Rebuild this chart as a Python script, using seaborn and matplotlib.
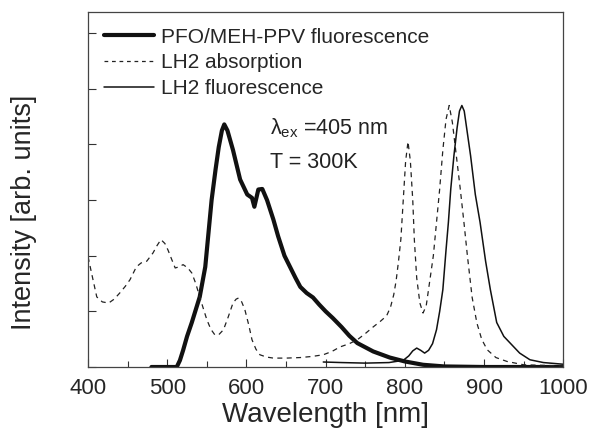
import numpy as np
import pandas as pd
import seaborn as sns
import matplotlib.pyplot as plt
from matplotlib.ticker import MultipleLocator

# PFO/MEH-PPV fluorescence (thick line)
pfo_wl = [480, 512, 516, 520, 525, 531, 536, 541, 548, 552, 556, 561, 565, 569, 572,
          576, 583, 592, 601, 607, 610, 615, 620, 626, 634, 640, 648, 655, 662, 668,
          676, 684, 692, 700, 709, 720, 730, 740, 760, 781, 800, 823, 850, 900, 1000]
pfo_int = [0, 0, 0.12, 0.3, 0.55, 0.8, 1.03, 1.26, 1.8, 2.4, 3.0, 3.55, 3.95, 4.25, 4.36,
           4.25, 3.9, 3.37, 3.1, 3.04, 2.88, 3.19, 3.2, 3.0, 2.65, 2.35, 2.0, 1.8, 1.6, 1.44,
           1.33, 1.25, 1.12, 1.0, 0.88, 0.72, 0.56, 0.43, 0.28, 0.17, 0.1, 0.04, 0.01, 0, 0]

# LH2 absorption (dashed)
abs_wl = [400, 405, 411, 418, 426, 433, 440, 447, 453, 461, 467, 474, 482, 487, 492,
          497, 501, 506, 510, 515, 520, 526, 531, 536, 541, 546, 550, 555, 560, 565,
          571, 577, 583, 587, 590, 594, 598, 603, 607, 612, 617, 625, 634, 650, 668,
          683, 697, 708, 718, 730, 740, 750, 760, 769, 777, 782, 786, 789, 792, 795,
          798, 801, 804, 807, 810, 812, 815, 819, 823, 827, 831, 836, 840, 844, 848,
          852, 856, 860, 865, 870, 875, 879, 885, 891, 897, 904, 915, 929, 950, 975, 1000]
abs_int = [1.98, 1.65, 1.26, 1.17, 1.15, 1.22, 1.33, 1.45, 1.57, 1.8, 1.87, 1.9, 2.05, 2.18, 2.29,
           2.22, 2.1, 1.92, 1.78, 1.8, 1.84, 1.78, 1.69, 1.5, 1.26, 1.03, 0.85, 0.68, 0.58, 0.58,
           0.67, 0.9, 1.15, 1.22, 1.24, 1.17, 1.03, 0.75, 0.49, 0.32, 0.22, 0.18, 0.16, 0.16, 0.17,
           0.19, 0.22, 0.28, 0.36, 0.42, 0.49, 0.6, 0.72, 0.82, 0.92, 1.08, 1.3, 1.55, 1.9, 2.3,
           3.0, 3.7, 4.05, 3.7, 3.0, 2.29, 1.6, 1.15, 0.97, 1.1, 1.5, 2.0, 2.6, 3.2, 3.9,
           4.45, 4.7, 4.4, 3.8, 3.2, 2.55, 2.0, 1.25, 0.79, 0.5, 0.31, 0.17, 0.1, 0.04, 0.03, 0.02]

# LH2 fluorescence (thin solid)
fl_wl = [697, 720, 750, 780, 798, 805, 810, 815, 820, 825, 830, 835, 840, 844, 848,
         852, 855, 858, 862, 866, 869, 872, 875, 878, 883, 889, 895, 902, 908, 916,
         925, 933, 945, 958, 975, 1000]
fl_int = [0.09, 0.08, 0.07, 0.08, 0.12, 0.2, 0.29, 0.34, 0.3, 0.25, 0.3, 0.42, 0.67, 1.0, 1.39,
          2.1, 2.6, 3.2, 3.8, 4.3, 4.6, 4.7, 4.6, 4.3, 3.8, 3.1, 2.6, 1.9, 1.39, 0.8,
          0.55, 0.43, 0.25, 0.13, 0.08, 0.05]

labels = ["PFO/MEH-PPV fluorescence", "LH2 absorption", "LH2 fluorescence"]

sns.set_style("ticks")
plt.rcParams['font.family'] = ['Liberation Sans', 'DejaVu Sans']
plt.rcParams['mathtext.fontset'] = 'custom'
plt.rcParams['mathtext.rm'] = 'Liberation Sans'
plt.rcParams['mathtext.it'] = 'Liberation Sans'

fig = plt.figure(figsize=(5.91, 4.29), dpi=100)
ax = fig.add_axes([0.149, 0.1445, 0.804, 0.8275])

pfo = pd.DataFrame({"wl": pfo_wl, "val": pfo_int})
ab = pd.DataFrame({"wl": abs_wl, "val": abs_int})
fl = pd.DataFrame({"wl": fl_wl, "val": fl_int})

sns.lineplot(data=pfo, x="wl", y="val", ax=ax, color="#111111", lw=3.0, label=labels[0])
sns.lineplot(data=ab, x="wl", y="val", ax=ax, color="#222222", lw=0.9,
             dashes=False, label=labels[1])
ax.lines[-1].set_dashes([4, 3.5])
sns.lineplot(data=fl, x="wl", y="val", ax=ax, color="#111111", lw=1.1, label=labels[2])

ax.set_xlim(400, 1000)
ax.set_ylim(0, 6.38)
ax.xaxis.set_major_locator(MultipleLocator(100))
ax.xaxis.set_minor_locator(MultipleLocator(50))
ax.set_yticks(range(0, 7))
ax.set_yticklabels([])

ax.tick_params(which="both", direction="in", color="#333333", width=0.8)
ax.tick_params(which="major", length=6, labelsize=16, pad=8)
ax.tick_params(which="minor", length=4.5)
for s in ax.spines.values():
    s.set_color("#444444")
    s.set_linewidth(0.9)

ax.set_xlabel("Wavelength [nm]", fontsize=20, labelpad=2)
ax.set_ylabel("Intensity [arb. units]", fontsize=19.5)
ax.yaxis.set_label_coords(-0.108, 0.437)

ax.text(630, 4.3, r"$\lambda_{\rm ex}$ =405 nm", fontsize=15.5, va="center", color="#222222")
ax.text(630, 3.68, "T = 300K", fontsize=15.5, va="center", color="#222222")

leg = ax.legend(loc="upper left", frameon=False, fontsize=15, handlelength=2.4,
                handletextpad=0.35, labelspacing=0.32, borderaxespad=0.35,
                borderpad=0.4)
leg.get_lines()[1].set_dashes([3, 3])

fig.savefig("out.png", dpi=100)
